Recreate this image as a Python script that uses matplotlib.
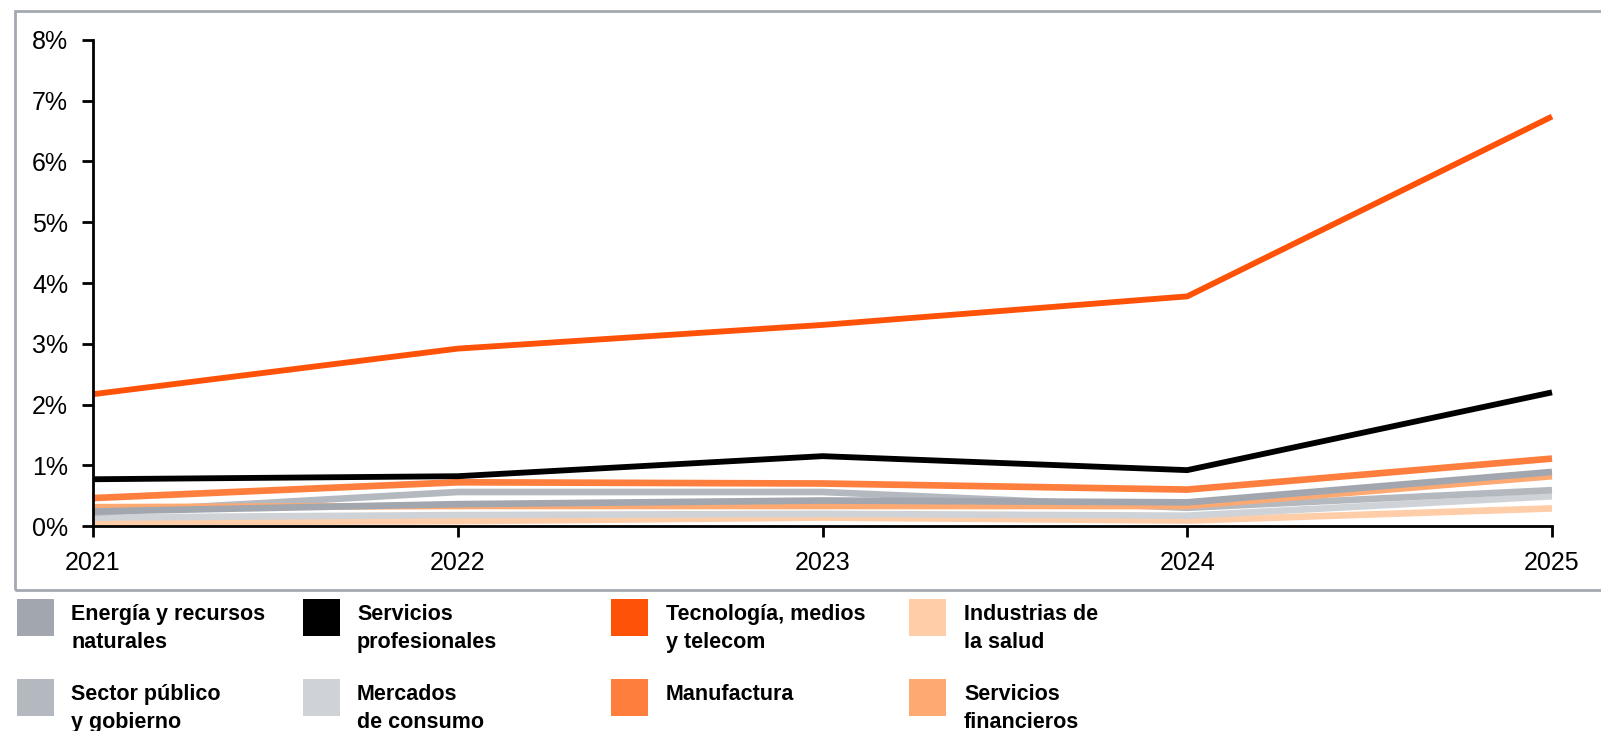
import matplotlib.pyplot as plt
from matplotlib.patches import Rectangle
from matplotlib.ticker import FuncFormatter

plt.rcParams['font.family'] = ['Liberation Sans', 'DejaVu Sans']

years = [2021, 2022, 2023, 2024, 2025]

# share (%) per sector
industrias_salud = [0.06, 0.08, 0.14, 0.09, 0.29]
mercados_consumo = [0.14, 0.18, 0.20, 0.17, 0.49]
sector_publico = [0.22, 0.56, 0.56, 0.30, 0.59]
energia = [0.24, 0.36, 0.42, 0.39, 0.89]
servicios_financieros = [0.31, 0.33, 0.33, 0.33, 0.82]
manufactura = [0.46, 0.72, 0.70, 0.60, 1.11]
servicios_profesionales = [0.77, 0.82, 1.15, 0.92, 2.20]
tecnologia = [2.17, 2.92, 3.31, 3.78, 6.74]

legend_labels = [
    "Energía y recursos\nnaturales", "Servicios\nprofesionales",
    "Tecnología, medios\ny telecom", "Industrias de\nla salud",
    "Sector público\ny gobierno", "Mercados\nde consumo",
    "Manufactura", "Servicios\nfinancieros",
]

colors = {
    "energia": "#A2A6AF",
    "profesionales": "#000000",
    "tecnologia": "#FE5208",
    "salud": "#FFCDA8",
    "publico": "#B4B9C0",
    "consumo": "#CFD3D8",
    "manufactura": "#FE7F3D",
    "financieros": "#FFA972",
}

fig = plt.figure(figsize=(16.01, 7.31), dpi=100)
ax = fig.add_axes([0.0581, 0.2804, 0.9113, 0.6649])

series = [
    (industrias_salud, "salud"),
    (mercados_consumo, "consumo"),
    (sector_publico, "publico"),
    (servicios_financieros, "financieros"),
    (energia, "energia"),
    (manufactura, "manufactura"),
    (servicios_profesionales, "profesionales"),
    (tecnologia, "tecnologia"),
]
for vals, key in series:
    lw = 4.2 if key in ("tecnologia", "profesionales") else 4.8
    ax.plot(years, vals, color=colors[key], lw=lw, solid_joinstyle='miter',
            solid_capstyle='butt', clip_on=False)

ax.set_xlim(2021, 2025)
ax.set_ylim(0, 8)
ax.set_xticks(years)
ax.set_yticks(range(0, 9))
ax.yaxis.set_major_formatter(FuncFormatter(lambda v, p: f"{int(v)}%"))
for s in ("top", "right"):
    ax.spines[s].set_visible(False)
for s in ("left", "bottom"):
    ax.spines[s].set_linewidth(2)
ax.tick_params(axis='both', length=8, width=2, labelsize=18, color='black')
ax.tick_params(axis='y', pad=10)
ax.tick_params(axis='x', pad=10)

# grey frame around the plot area (open on the right)
fig.add_artist(Rectangle((15 / 1601, 1 - 590 / 731), 1.1, (590 - 11) / 731,
                         transform=fig.transFigure, fill=False,
                         edgecolor='#A5A8B0', lw=2))

# legend: 4 columns x 2 rows
order = ["energia", "profesionales", "tecnologia", "salud",
         "publico", "consumo", "manufactura", "financieros"]
col_x = [17, 303, 611, 909]
text_x = [71, 357, 666, 964]
row_top = [599, 679]
W, H = 1601, 731
for i, (lab, key) in enumerate(zip(legend_labels, order)):
    r, c = divmod(i, 4)
    fig.add_artist(Rectangle((col_x[c] / W, 1 - (row_top[r] + 37) / H),
                             37 / W, 37 / H, transform=fig.transFigure,
                             facecolor=colors[key], edgecolor='none'))
    fig.text(text_x[c] / W, 1 - (row_top[r] + 5) / H, lab, ha='left', va='top',
             fontsize=15.5, fontweight='bold', linespacing=1.45)

fig.savefig("out.png", dpi=100)
